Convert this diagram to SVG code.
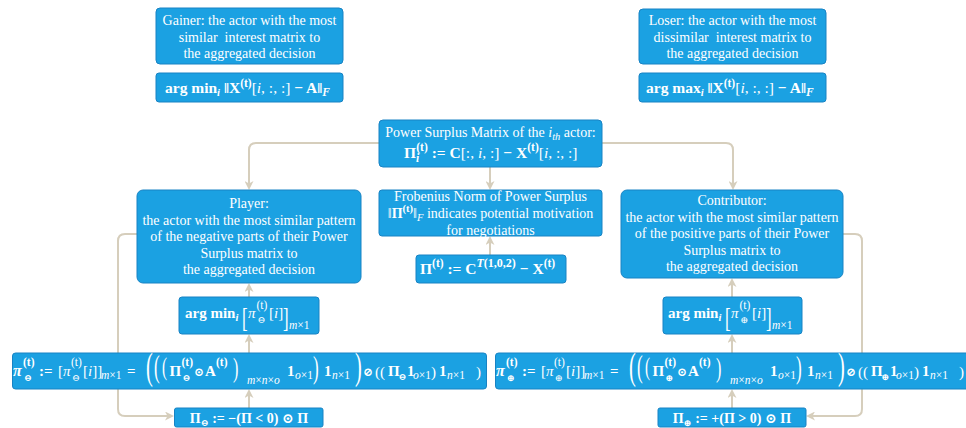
<svg xmlns="http://www.w3.org/2000/svg" width="966" height="428" viewBox="0 0 966 428">
<defs>
<style>
.box{fill:#1ba1e2;stroke:#1883c4;stroke-width:1}
.t{font-family:"Liberation Serif","DejaVu Serif",serif;font-size:14px;fill:#fff;text-anchor:middle}
.ts{font-family:"Liberation Serif","DejaVu Serif",serif;font-size:15.5px;fill:#fff;font-weight:bold}
.f{font-family:"Liberation Serif","DejaVu Serif",serif;font-size:15px;fill:#fff;font-weight:bold}
.m{font-weight:bold}
.s{font-size:10.5px}
.u{font-size:11.5px}
.g{font-size:9.5px}
.i{font-style:italic}
.n{font-weight:normal}
.o{font-size:12px}
.bp{font-family:"Liberation Serif","DejaVu Serif",serif;fill:#fff;font-weight:normal}
.c{fill:none;stroke:#d6cebc;stroke-width:2}
</style>
<marker id="ah" viewBox="0 0 9 9" refX="5" refY="4.5" markerWidth="9" markerHeight="9" markerUnits="userSpaceOnUse" orient="auto">
<path d="M0,0 L9,4.5 L0,9 L2.5,4.5 z" fill="#d6cebc"/>
</marker>
</defs>
<rect width="966" height="428" fill="#fff"/>

<g id="connectors">
<path class="c" marker-end="url(#ah)" d="M379,143 H256 Q249,143 249,150 V186"/>
<path class="c" marker-end="url(#ah)" d="M602,143 H726 Q733,143 733,150 V186"/>
<path class="c" marker-end="url(#ah)" d="M490,167 V186"/>
<path class="c" marker-end="url(#ah)" d="M490,255 V240"/>
<path class="c" marker-end="url(#ah)" d="M249,297 V287"/>
<path class="c" marker-end="url(#ah)" d="M249,353 V338"/>
<path class="c" marker-end="url(#ah)" d="M249,408 V393"/>
<path class="c" marker-end="url(#ah)" d="M732,297 V282"/>
<path class="c" marker-end="url(#ah)" d="M732,353 V338"/>
<path class="c" marker-end="url(#ah)" d="M732,408 V393"/>
<path class="c" marker-end="url(#ah)" d="M137,234 H125 Q118,234 118,241 V409 Q118,416 125,416 H170"/>
<path class="c" marker-end="url(#ah)" d="M843,234 H855 Q862,234 862,241 V409 Q862,416 855,416 H810"/>
</g>

<g id="gainer">
<rect class="box" x="156" y="8" width="187" height="56" rx="4"/>
<text class="t" x="249.5" y="25">Gainer: the actor with the most</text>
<text class="t" x="249.5" y="41.5" xml:space="preserve">similar  interest matrix to</text>
<text class="t" x="249.5" y="58">the aggregated decision</text>
</g>
<g id="gainer-math">
<rect class="box" x="156" y="73" width="187" height="29" rx="3"/>
<text class="ts" x="165" y="93">arg min<tspan class="s i" baseline-shift="-3">i</tspan> ‖X<tspan class="u" baseline-shift="6">(t)</tspan><tspan class="n">[<tspan class="i">i</tspan>, :, :]</tspan> − A‖<tspan class="u i" baseline-shift="-3">F</tspan></text>
</g>

<g id="loser">
<rect class="box" x="639" y="9" width="187" height="55" rx="4"/>
<text class="t" x="732.5" y="25">Loser: the actor with the most</text>
<text class="t" x="732.5" y="41.5" xml:space="preserve">dissimilar  interest matrix to</text>
<text class="t" x="732.5" y="58">the aggregated decision</text>
</g>
<g id="loser-math">
<rect class="box" x="639" y="73" width="187" height="29" rx="3"/>
<text class="ts" x="646" y="93">arg max<tspan class="s i" baseline-shift="-3">i</tspan> ‖X<tspan class="u" baseline-shift="6">(t)</tspan><tspan class="n">[<tspan class="i">i</tspan>, :, :]</tspan> − A‖<tspan class="u i" baseline-shift="-3">F</tspan></text>
</g>

<g id="power-surplus">
<rect class="box" x="379" y="120" width="223" height="47" rx="4"/>
<text class="t" x="490.5" y="137">Power Surplus Matrix of the <tspan class="i">i</tspan><tspan class="s i" baseline-shift="-3">th</tspan> actor:</text>
<text class="ts" x="404" y="158" font-size="16.5">Π<tspan class="u i" baseline-shift="-4">i</tspan><tspan class="u" dx="-3" baseline-shift="7">(t)</tspan> := C<tspan class="n">[:, <tspan class="i">i</tspan>, :]</tspan> − X<tspan class="u" baseline-shift="7">(t)</tspan><tspan class="n">[<tspan class="i">i</tspan>, :, :]</tspan></text>
</g>

<g id="frobenius">
<rect class="box" x="379" y="190" width="223" height="46" rx="3"/>
<text class="t" x="490.5" y="201">Frobenius Norm of Power Surplus</text>
<text class="t" x="490.5" y="218">‖<tspan class="m">Π</tspan><tspan class="s m" baseline-shift="6">(t)</tspan>‖<tspan class="s i" baseline-shift="-3">F</tspan> indicates potential motivation</text>
<text class="t" x="490.5" y="234.5">for negotiations</text>
</g>

<g id="pi-def">
<rect class="box" x="416" y="255" width="150" height="28" rx="3"/>
<text class="ts" x="420" y="274" font-size="16.5">Π<tspan class="u" baseline-shift="7">(t)</tspan> := C<tspan font-size="12" baseline-shift="7"><tspan class="i">T</tspan>(1,0,2)</tspan> − X<tspan class="u" baseline-shift="7">(t)</tspan></text>
</g>

<g id="player">
<rect class="box" x="137" y="190" width="224" height="93" rx="6"/>
<text class="t" x="249" y="208">Player:</text>
<text class="t" x="249" y="224.5">the actor with the most similar pattern</text>
<text class="t" x="249" y="241">of the negative parts of their Power</text>
<text class="t" x="249" y="257.5">Surplus matrix to</text>
<text class="t" x="249" y="274">the aggregated decision</text>
</g>

<g id="player-argmin">
<rect class="box" x="179" y="297" width="140" height="37" rx="3"/>
<text class="f" x="185" y="318">arg min<tspan class="s i" baseline-shift="-3">i</tspan></text>
<text class="bp" font-size="28" transform="translate(242,327) scale(0.6,1)">[</text>
<text class="f n" x="248" y="318"><tspan class="i">π</tspan></text>
<text class="f n u" x="256.5" y="309">(t)</text>
<text class="f n g" x="257.5" y="323">⊖</text>
<text class="f n" x="269" y="318">[<tspan class="i">i</tspan>]</text>
<text class="bp" font-size="28" transform="translate(283,327) scale(0.6,1)">]</text>
<text class="f n u" x="289" y="329"><tspan class="i">m</tspan>×1</text>
</g>

<g id="contributor">
<rect class="box" x="621" y="190" width="222" height="88" rx="6"/>
<text class="t" x="732" y="205">Contributor:</text>
<text class="t" x="732" y="221.5">the actor with the most similar pattern</text>
<text class="t" x="732" y="238">of the positive parts of their Power</text>
<text class="t" x="732" y="254.5">Surplus matrix to</text>
<text class="t" x="732" y="271">the aggregated decision</text>
</g>

<g id="contributor-argmin">
<rect class="box" x="663" y="297" width="139" height="37" rx="3"/>
<text class="f" x="668" y="318">arg min<tspan class="s i" baseline-shift="-3">i</tspan></text>
<text class="bp" font-size="28" transform="translate(725,327) scale(0.6,1)">[</text>
<text class="f n" x="731" y="318"><tspan class="i">π</tspan></text>
<text class="f n u" x="739.5" y="309">(t)</text>
<text class="f n g" x="740.5" y="323">⊕</text>
<text class="f n" x="752" y="318">[<tspan class="i">i</tspan>]</text>
<text class="bp" font-size="28" transform="translate(766,327) scale(0.6,1)">]</text>
<text class="f n u" x="772" y="329"><tspan class="i">m</tspan>×1</text>
</g>

<g id="pi-minus-formula">
<rect class="box" x="12.5" y="353" width="474" height="36" rx="3"/>
<text class="f">
<tspan x="13" y="376" class="i" font-size="16">π</tspan>
<tspan x="23" y="366" class="u">(t)</tspan>
<tspan x="24" y="381" class="g">⊖</tspan>
<tspan x="39" y="376">:=</tspan>
<tspan x="58" y="376" class="n">[<tspan class="i">π</tspan></tspan>
<tspan x="71" y="366" class="u n">(t)</tspan>
<tspan x="72" y="381" class="g n">⊖</tspan>
<tspan x="83" y="376" class="n">[<tspan class="i">i</tspan>]]</tspan>
<tspan x="101" y="379" class="u n"><tspan class="i">m</tspan>×1</tspan>
<tspan x="127" y="376">=</tspan>
<tspan x="169.5" y="376">Π</tspan>
<tspan x="181.5" y="366" class="u">(t)</tspan>
<tspan x="182.5" y="381" class="g">⊖</tspan>
<tspan x="194" y="375.5" class="o">⊙</tspan>
<tspan x="205" y="376">A</tspan>
<tspan x="216" y="366" class="u">(t)</tspan>
<tspan x="247" y="384" class="u n"><tspan class="i">m</tspan>×<tspan class="i">n</tspan>×<tspan class="i">o</tspan></tspan>
<tspan x="287" y="376">1</tspan>
<tspan x="295" y="379" class="u n"><tspan class="i">o</tspan>×1</tspan>
<tspan x="324" y="376">1</tspan>
<tspan x="332" y="379" class="u n"><tspan class="i">n</tspan>×1</tspan>
<tspan x="363" y="375.5" class="o">⊘</tspan>
<tspan x="375" y="377" class="n">((</tspan>
<tspan x="388" y="376">Π</tspan>
<tspan x="398.5" y="380" class="g">⊖</tspan>
<tspan x="407" y="376">1</tspan>
<tspan x="413" y="379" class="u n"><tspan class="i">o</tspan>×1</tspan>
<tspan x="431" y="377" class="n">)</tspan>
<tspan x="439" y="376">1</tspan>
<tspan x="447" y="379" class="u n"><tspan class="i">n</tspan>×1</tspan>
<tspan x="476" y="377" class="n">)</tspan>
</text>
<text class="bp" font-size="37" transform="translate(146,378.5) scale(0.55,1)">(</text>
<text class="bp" font-size="31" transform="translate(154,376.5) scale(0.55,1)">(</text>
<text class="bp" font-size="25" transform="translate(162,375) scale(0.6,1)">(</text>
<text class="bp" font-size="27" transform="translate(233,377) scale(0.6,1)">)</text>
<text class="bp" font-size="31" transform="translate(313,378) scale(0.55,1)">)</text>
<text class="bp" font-size="37" transform="translate(355,378.5) scale(0.55,1)">)</text>
</g>

<g id="pi-minus-def">
<rect class="box" x="174.5" y="408" width="148.5" height="19" rx="2"/>
<text class="t m" x="249" y="422.5" font-size="15">Π<tspan class="g" baseline-shift="-3">⊖</tspan> := −(Π &lt; 0) ⊙ Π</text>
</g>

<g id="pi-plus-formula">
<rect class="box" x="495.5" y="353" width="474" height="36" rx="3"/>
<g transform="translate(483,0)">
<text class="f">
<tspan x="13" y="376" class="i" font-size="16">π</tspan>
<tspan x="23" y="366" class="u">(t)</tspan>
<tspan x="24" y="381" class="g">⊕</tspan>
<tspan x="39" y="376">:=</tspan>
<tspan x="58" y="376" class="n">[<tspan class="i">π</tspan></tspan>
<tspan x="71" y="366" class="u n">(t)</tspan>
<tspan x="72" y="381" class="g n">⊕</tspan>
<tspan x="83" y="376" class="n">[<tspan class="i">i</tspan>]]</tspan>
<tspan x="101" y="379" class="u n"><tspan class="i">m</tspan>×1</tspan>
<tspan x="127" y="376">=</tspan>
<tspan x="169.5" y="376">Π</tspan>
<tspan x="181.5" y="366" class="u">(t)</tspan>
<tspan x="182.5" y="381" class="g">⊕</tspan>
<tspan x="194" y="375.5" class="o">⊙</tspan>
<tspan x="205" y="376">A</tspan>
<tspan x="216" y="366" class="u">(t)</tspan>
<tspan x="247" y="384" class="u n"><tspan class="i">m</tspan>×<tspan class="i">n</tspan>×<tspan class="i">o</tspan></tspan>
<tspan x="287" y="376">1</tspan>
<tspan x="295" y="379" class="u n"><tspan class="i">o</tspan>×1</tspan>
<tspan x="324" y="376">1</tspan>
<tspan x="332" y="379" class="u n"><tspan class="i">n</tspan>×1</tspan>
<tspan x="363" y="375.5" class="o">⊘</tspan>
<tspan x="375" y="377" class="n">((</tspan>
<tspan x="388" y="376">Π</tspan>
<tspan x="398.5" y="380" class="g">⊕</tspan>
<tspan x="407" y="376">1</tspan>
<tspan x="413" y="379" class="u n"><tspan class="i">o</tspan>×1</tspan>
<tspan x="431" y="377" class="n">)</tspan>
<tspan x="439" y="376">1</tspan>
<tspan x="447" y="379" class="u n"><tspan class="i">n</tspan>×1</tspan>
<tspan x="476" y="377" class="n">)</tspan>
</text>
<text class="bp" font-size="37" transform="translate(146,378.5) scale(0.55,1)">(</text>
<text class="bp" font-size="31" transform="translate(154,376.5) scale(0.55,1)">(</text>
<text class="bp" font-size="25" transform="translate(162,375) scale(0.6,1)">(</text>
<text class="bp" font-size="27" transform="translate(233,377) scale(0.6,1)">)</text>
<text class="bp" font-size="31" transform="translate(313,378) scale(0.55,1)">)</text>
<text class="bp" font-size="37" transform="translate(355,378.5) scale(0.55,1)">)</text>
</g>
</g>

<g id="pi-plus-def">
<rect class="box" x="658" y="408" width="148" height="19" rx="2"/>
<text class="t m" x="732" y="422.5" font-size="15">Π<tspan class="g" baseline-shift="-3">⊕</tspan> := +(Π &gt; 0) ⊙ Π</text>
</g>
</svg>
